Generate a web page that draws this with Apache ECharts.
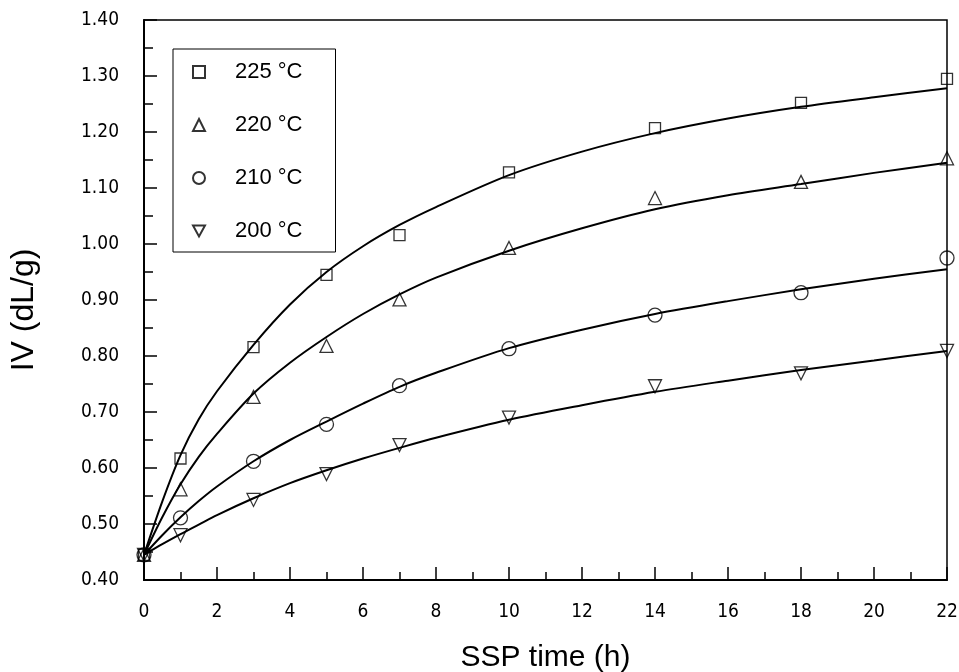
<!DOCTYPE html>
<html>
<head>
<meta charset="utf-8">
<title>IV vs SSP time</title>
<script src="https://cdn.jsdelivr.net/npm/echarts@6/dist/echarts.min.js"></script>
<style>
  html, body { margin: 0; padding: 0; background: #fff; }
  #myChart { width: 959px; height: 672px; }
</style>
</head>
<body>
<div id="myChart"></div>
<script>
// measured points (h, dL/g)
const times = [0, 1, 3, 5, 7, 10, 14, 18, 22];
const iv225 = [0.445, 0.617, 0.816, 0.945, 1.016, 1.128, 1.207, 1.252, 1.295];
const iv220 = [0.445, 0.562, 0.727, 0.818, 0.901, 0.993, 1.082, 1.111, 1.153];
const iv210 = [0.445, 0.511, 0.612, 0.678, 0.747, 0.813, 0.873, 0.913, 0.975];
const iv200 = [0.445, 0.480, 0.543, 0.589, 0.641, 0.690, 0.746, 0.769, 0.809];

// fitted curves
const fitTimes = [0, 0.5, 1, 1.5, 2, 3, 4, 5, 6, 7, 8, 10, 12, 14, 16, 18, 20, 22];
const fit225 = [0.445, 0.540, 0.623, 0.687, 0.737, 0.820, 0.892, 0.950, 0.996, 1.034, 1.066, 1.123, 1.165, 1.198, 1.224, 1.245, 1.262, 1.278];
const fit220 = [0.445, 0.512, 0.571, 0.620, 0.661, 0.733, 0.788, 0.834, 0.875, 0.910, 0.940, 0.988, 1.028, 1.062, 1.087, 1.107, 1.127, 1.145];
const fit210 = [0.445, 0.480, 0.512, 0.541, 0.567, 0.612, 0.650, 0.683, 0.715, 0.745, 0.770, 0.814, 0.847, 0.875, 0.898, 0.919, 0.938, 0.955];
const fit200 = [0.445, 0.464, 0.482, 0.499, 0.516, 0.546, 0.573, 0.596, 0.617, 0.636, 0.654, 0.686, 0.712, 0.736, 0.756, 0.775, 0.792, 0.809];

const names = ["225 °C", "220 °C", "210 °C", "200 °C"];

const tickFont = "'DejaVu Sans Condensed', 'DejaVu Sans', sans-serif";
const textFont = "'Liberation Sans', Arial, sans-serif";

let myChart = echarts.init(document.getElementById("myChart"));

function pairs(xs, ys) {
  return xs.map((x, i) => [x, ys[i]]);
}

const hollow = {
  color: "rgba(0,0,0,0)",
  borderColor: "#000",
  borderWidth: 1.3,
};

function markers(name, ys, symbol, size) {
  return {
    name: name,
    type: "scatter",
    data: pairs(times, ys),
    symbol: symbol,
    symbolSize: size,
    itemStyle: hollow,
    z: 5,
  };
}

function curve(ys) {
  return {
    type: "line",
    data: pairs(fitTimes, ys),
    smooth: 0.3,
    showSymbol: false,
    lineStyle: { color: "#000", width: 2 },
    silent: true,
    z: 3,
  };
}

let option = {
  animation: false,
  grid: {
    left: 144,
    top: 20,
    right: 12,
    bottom: 92,
    outerBoundsMode: "none",
    show: true,
    borderColor: "#000",
    borderWidth: 1.5,
  },
  legend: {
    data: names,
    orient: "vertical",
    left: 173,
    top: 49,
    padding: [12, 33, 10, 19],
    itemGap: 31,
    itemWidth: 12,
    itemHeight: 12,
    selectedMode: false,
    borderColor: "#000",
    borderWidth: 1,
    backgroundColor: "#fff",
    textStyle: {
      fontFamily: textFont,
      fontSize: 22,
      lineHeight: 22,
      color: "#000",
      padding: [0, 0, 0, 25],
    },
  },
  xAxis: {
    type: "value",
    min: 0,
    max: 22,
    interval: 2,
    name: "SSP time (h)",
    nameLocation: "middle",
    nameGap: 63,
    nameTextStyle: { fontFamily: textFont, fontSize: 30, color: "#000" },
    axisLine: { onZero: false, lineStyle: { color: "#000", width: 2 } },
    axisTick: { inside: true, length: 13, lineStyle: { color: "#000", width: 1.5 } },
    minorTick: { show: true, splitNumber: 2, length: 8, lineStyle: { color: "#000", width: 1.5 } },
    axisLabel: { margin: 23, fontFamily: tickFont, fontSize: 19, color: "#000" },
    splitLine: { show: false },
  },
  yAxis: {
    type: "value",
    min: 0.4,
    max: 1.4,
    interval: 0.1,
    name: "IV (dL/g)",
    nameLocation: "middle",
    nameGap: 104,
    nameTextStyle: {
      fontFamily: textFont,
      fontSize: 32,
      color: "#000",
      padding: [0, 20, 0, 0],
    },
    axisLine: { onZero: false, lineStyle: { color: "#000", width: 2 } },
    axisTick: { inside: true, length: 13, lineStyle: { color: "#000", width: 1.5 } },
    minorTick: { show: true, splitNumber: 2, length: 9, lineStyle: { color: "#000", width: 1.5 } },
    axisLabel: {
      margin: 25,
      fontFamily: tickFont,
      fontSize: 19,
      color: "#000",
      padding: [5, 0, 0, 0],
      formatter: (v) => v.toFixed(2),
    },
    splitLine: { show: false },
  },
  series: [
    curve(fit225),
    curve(fit220),
    curve(fit210),
    curve(fit200),
    markers(names[0], iv225, "rect", 11),
    markers(names[1], iv220, "triangle", 13),
    markers(names[2], iv210, "circle", 14),
    markers(names[3], iv200, "path://M0,0 L12,0 L6,11 Z", 13),
  ],
};

myChart.setOption(option);
</script>
</body>
</html>
